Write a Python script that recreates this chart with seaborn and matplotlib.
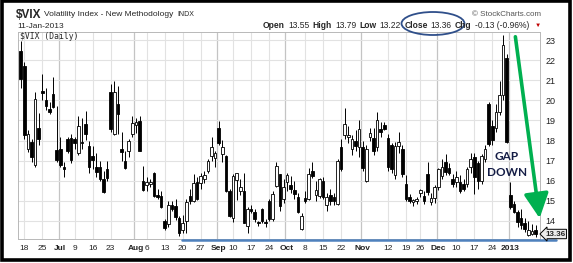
import numpy as np
import pandas as pd
import matplotlib
matplotlib.use("Agg")
import matplotlib.pyplot as plt
from matplotlib.patches import Ellipse, Rectangle, FancyArrowPatch
from matplotlib.lines import Line2D
import seaborn as sns

# ---------------- data ----------------
opens = [22.45, 21.70, 17.60, 17.92, 16.80, 18.60, 20.45, 20.00, 19.55, 20.30, 17.55, 17.60,
         16.65, 18.10, 18.15, 18.10, 17.40, 17.95, 18.80, 17.75, 17.25, 16.70, 16.70, 16.10,
         16.60, 20.40, 18.30, 19.80, 17.60, 17.00, 17.50, 18.30, 18.75, 18.95, 16.00, 15.80,
         15.85, 16.40, 15.30, 15.25, 14.00, 13.85, 14.80, 14.75, 14.15, 13.55, 14.00, 15.25,
         15.00, 15.95, 15.90, 16.10, 16.50, 17.25, 17.15, 18.60, 17.35, 17.25, 15.50, 14.15,
         16.05, 15.50, 15.50, 13.75, 14.60, 14.45, 13.90, 14.58, 13.95, 15.00, 14.08, 15.75,
         16.33, 15.10, 15.95, 15.80, 15.55, 15.20, 13.60, 15.12, 15.10, 16.50, 15.30, 15.25,
         16.00, 14.80, 15.28, 15.20, 14.85, 17.67, 18.25, 18.17, 17.58, 18.00, 17.67, 17.67,
         16.00, 18.20, 18.12, 17.67, 18.58, 18.75, 18.12, 17.78, 16.28, 17.75, 17.58, 15.83,
         15.20, 14.95, 15.00, 15.40, 15.25, 16.33, 14.95, 15.15, 15.67, 16.25, 16.92, 16.62,
         16.08, 15.92, 15.92, 15.85, 15.83, 16.70, 17.20, 16.90, 16.00, 17.10, 19.80, 18.70,
         18.60, 19.42, 20.25, 22.10, 15.30, 14.85, 14.45, 14.15, 13.90, 13.30, 13.35, 13.55]

highs = [22.95, 21.90, 18.50, 18.10, 20.40, 19.35, 21.30, 20.60, 19.90, 21.15, 19.70, 18.20,
         16.95, 18.20, 18.30, 18.20, 19.20, 19.10, 19.45, 18.00, 17.75, 17.40, 17.00, 16.50,
         17.00, 20.80, 20.95, 20.70, 18.40, 17.50, 18.10, 19.20, 19.10, 19.20, 16.75, 16.20,
         16.10, 16.45, 15.60, 15.50, 14.10, 15.00, 15.00, 15.10, 14.25, 14.30, 15.10, 15.60,
         16.35, 16.20, 16.40, 16.50, 17.10, 18.20, 17.50, 18.95, 18.05, 17.30, 15.60, 16.35,
         16.40, 16.10, 16.40, 14.67, 14.80, 14.60, 14.00, 14.65, 14.12, 15.10, 15.50, 16.95,
         16.35, 16.10, 16.40, 16.25, 16.00, 15.40, 14.40, 15.50, 16.65, 16.95, 16.00, 16.15,
         16.20, 15.40, 15.60, 15.40, 17.10, 18.10, 19.60, 18.70, 18.25, 18.50, 19.00, 18.00,
         17.80, 18.60, 18.60, 19.40, 18.90, 18.90, 18.30, 17.90, 17.95, 18.40, 17.80, 16.30,
         15.35, 15.10, 15.20, 15.60, 15.50, 16.95, 15.40, 15.80, 16.65, 17.10, 17.35, 16.90,
         16.35, 16.50, 16.30, 16.10, 16.70, 17.40, 17.40, 17.00, 17.35, 17.80, 19.90, 19.00,
         19.80, 20.95, 23.25, 22.30, 15.95, 15.00, 14.55, 14.60, 14.15, 14.00, 13.85, 13.79]

lows = [20.60, 18.10, 17.45, 16.92, 16.70, 17.80, 20.00, 19.50, 19.30, 19.60, 16.95, 16.70,
        16.20, 17.40, 16.90, 17.60, 17.30, 17.60, 18.05, 16.40, 16.60, 16.20, 16.00, 15.40,
        16.00, 18.40, 18.25, 18.30, 17.00, 16.60, 17.20, 18.20, 18.35, 17.50, 15.50, 15.50,
        15.70, 15.20, 15.10, 14.65, 13.55, 13.70, 14.50, 14.05, 13.25, 13.40, 13.40, 14.85,
        14.95, 15.05, 15.60, 15.90, 16.40, 17.00, 16.70, 17.80, 16.95, 15.45, 14.20, 13.95,
        15.05, 15.30, 13.90, 13.40, 14.40, 13.95, 13.75, 13.90, 13.70, 14.00, 14.00, 15.70,
        14.50, 14.90, 15.50, 15.40, 15.10, 14.40, 13.55, 14.90, 15.05, 16.15, 15.00, 15.15,
        15.10, 14.50, 14.80, 14.80, 14.80, 16.50, 18.10, 17.90, 17.30, 17.50, 17.20, 16.50,
        15.95, 18.00, 17.30, 17.50, 18.20, 18.50, 16.50, 16.40, 16.10, 17.40, 16.20, 15.00,
        14.90, 14.75, 14.85, 15.20, 14.85, 15.30, 14.80, 14.90, 15.55, 16.10, 16.30, 16.30,
        15.70, 15.70, 15.40, 15.50, 15.70, 16.40, 15.35, 15.60, 15.85, 16.95, 17.75, 17.80,
        18.40, 19.25, 20.00, 17.90, 14.60, 14.40, 13.70, 13.60, 13.45, 13.25, 13.30, 13.22]

closes = [21.08, 18.25, 18.33, 17.17, 20.05, 18.10, 20.35, 19.70, 19.40, 19.65, 17.05, 16.80,
          16.60, 17.50, 17.05, 17.90, 18.70, 17.88, 18.30, 16.70, 17.05, 16.45, 16.10, 15.45,
          16.15, 18.55, 20.40, 19.30, 17.45, 16.65, 18.00, 18.85, 18.90, 17.50, 15.55, 15.95,
          15.95, 15.25, 15.20, 14.70, 13.65, 14.80, 14.60, 14.20, 13.40, 13.90, 14.95, 15.00,
          15.90, 15.10, 16.25, 16.30, 17.00, 17.70, 17.40, 17.90, 17.70, 15.50, 14.25, 16.25,
          16.38, 15.70, 13.92, 14.58, 14.50, 14.10, 13.88, 14.00, 13.90, 14.10, 15.33, 16.75,
          14.75, 15.70, 16.28, 15.60, 15.35, 14.45, 14.25, 15.00, 16.35, 16.25, 15.55, 16.08,
          15.17, 15.20, 15.00, 15.00, 17.00, 16.60, 18.83, 18.28, 18.08, 17.75, 18.55, 16.62,
          17.58, 18.35, 17.50, 19.00, 18.42, 18.58, 16.67, 16.58, 17.75, 17.95, 16.33, 15.10,
          15.00, 15.05, 15.10, 15.55, 15.00, 15.42, 15.12, 15.67, 16.58, 16.67, 16.42, 16.38,
          15.83, 16.17, 15.50, 15.60, 16.58, 17.10, 16.20, 16.00, 17.25, 17.60, 17.85, 18.05,
          19.42, 20.25, 22.75, 17.95, 14.70, 14.45, 13.95, 13.78, 13.60, 13.55, 13.50, 13.36]

holidays = ["2012-07-04", "2012-09-03", "2012-10-29", "2012-10-30",
            "2012-11-22", "2012-12-25", "2013-01-01"]

tick_dates = ["2012-06-18", "2012-06-25", "2012-07-02", "2012-07-09", "2012-07-16",
              "2012-07-23", "2012-08-01", "2012-08-06", "2012-08-13", "2012-08-20",
              "2012-08-27", "2012-09-04", "2012-09-10", "2012-09-17", "2012-09-24",
              "2012-10-01", "2012-10-08", "2012-10-15", "2012-10-22", "2012-11-01",
              "2012-11-12", "2012-11-19", "2012-11-26", "2012-12-03", "2012-12-10",
              "2012-12-17", "2012-12-24", "2013-01-02"]
tick_labels = ["18", "25", "Jul", "9", "16", "23", "Aug", "6", "13", "20", "27", "Sep",
               "10", "17", "24", "Oct", "8", "15", "22", "Nov", "12", "19", "26", "Dec",
               "10", "17", "24", "2013"]
month_names = ["Jul", "Aug", "Sep", "Oct", "Nov", "Dec", "2013"]
y_ticks = [14, 15, 16, 17, 18, 19, 20, 21, 22, 23]
last_close = "13.36"

# ---------------- style ----------------
sns.set_theme(style="white")
plt.rcParams["font.family"] = ["Liberation Sans", "DejaVu Sans"]

W, H = 573, 263
fig = plt.figure(figsize=(W / 100, H / 100), dpi=100)
fig.patch.set_facecolor("white")


def fx(px):
    return px / W


def fy(py):
    return 1 - py / H


ax = fig.add_axes([fx(18), fy(239), fx(540) - fx(18), fy(32) - fy(239)])
ax.set_facecolor("white")

dates = pd.bdate_range("2012-06-15", "2013-01-11")
dates = dates[~dates.isin(pd.to_datetime(holidays))]
df = pd.DataFrame({"date": dates[:len(closes)], "open": opens, "high": highs,
                   "low": lows, "close": closes})
df["pos"] = np.arange(len(df))
pos_of = {d: p for d, p in zip(df["date"], df["pos"])}
tick_pos = [pos_of[pd.Timestamp(d)] for d in tick_dates]

# grid
for t, lab in zip(tick_pos, tick_labels):
    if lab in month_names:
        ax.axvline(t - 0.5, color="#c4c4c4", lw=0.9, zorder=0)
    else:
        ax.axvline(t, color="#e2e2e2", lw=0.8, zorder=0)
for yv in y_ticks:
    ax.axhline(yv, color="#e2e2e2", lw=0.8, zorder=0)

# candles
o = df["open"].to_numpy()
c = df["close"].to_numpy()
hi = df["high"].to_numpy()
lo = df["low"].to_numpy()
p = df["pos"].to_numpy()
up = c >= o
bottom = np.minimum(o, c)
height = np.maximum(np.abs(c - o), 0.06)
ax.vlines(p, lo, hi, color="black", lw=0.7, zorder=2)
ax.bar(p[up], height[up], bottom=bottom[up], width=0.72, color="white",
       edgecolor="black", linewidth=0.6, zorder=3)
ax.bar(p[~up], height[~up], bottom=bottom[~up], width=0.72, color="black",
       edgecolor="black", linewidth=0.6, zorder=3)

ax.set_xlim(-0.75, len(df) + 0.25)
ax.set_ylim(13.1, 23.4)

ax.yaxis.tick_right()
ax.set_yticks(y_ticks)
ax.set_yticklabels([str(v) for v in y_ticks])
ax.set_xticks(tick_pos)
ax.set_xticklabels(tick_labels)
ax.tick_params(axis="y", length=0, pad=4, labelsize=6.5, colors="#222222")
ax.tick_params(axis="x", length=0, pad=4, labelsize=6, colors="#222222")
for lab, txt in zip(ax.get_xticklabels(), tick_labels):
    if txt in month_names:
        lab.set_fontweight("bold")
for s in ax.spines.values():
    s.set_color("#b8b8b8")
    s.set_linewidth(0.7)

# ---------------- header texts ----------------
fig.canvas.draw()
renderer = fig.canvas.get_renderer()


def chain(pieces, x0, y, gap):
    x = x0
    for s, kw in pieces:
        t = fig.text(fx(x), fy(y), s, ha="left", va="center", parse_math=False, **kw)
        bb = t.get_window_extent(renderer)
        x += bb.width + gap
    return x


chain([("$VIX", dict(fontsize=8.5, fontweight="bold")),
       ("Volatility Index - New Methodology", dict(fontsize=6)),
       ("INDX", dict(fontsize=5))], 16, 15, 3)
fig.text(fx(17), fy(26), "11-Jan-2013", fontsize=6, ha="left", va="center")
fig.text(fx(20), fy(36.5), "$VIX (Daily)", fontsize=5.8, ha="left", va="center",
         family="DejaVu Sans Mono", parse_math=False)
fig.text(fx(541), fy(14), "\u00a9 StockCharts.com", fontsize=5.8, ha="right",
         va="center", color="#555555")

hdr = [("Open", True), ("13.55", False), ("High", True), ("13.79", False),
       ("Low", True), ("13.22", False), ("Close", True), ("13.36", False),
       ("Chg", True), ("-0.13 (-0.96%)", False)]
base = 6.0
tmp_w = 0
for s, b in hdr:
    t = fig.text(0, 0, s, fontsize=base, fontweight="bold" if b else "normal")
    tmp_w += t.get_window_extent(renderer).width
    t.remove()
gap = 3.2
size = base * (269 - gap * (len(hdr) - 1)) / tmp_w
chain([(s, dict(fontsize=size, fontweight="bold" if b else "normal")) for s, b in hdr],
      263, 25, gap)
fig.text(fx(535), fy(25.5), "\u25bc", fontsize=4.5, color="#c00000", ha="left", va="center")

# annotations
fig.add_artist(Ellipse((fx(433), fy(23.5)), 63 / W, 23 / H, transform=fig.transFigure,
                       fill=False, ec="#2f4f8a", lw=1.3))
fig.add_artist(FancyArrowPatch((fx(515), fy(34)), (fx(540), fy(221)),
                               transform=fig.transFigure,
                               arrowstyle="-|>,head_width=0.5,head_length=1.0",
                               mutation_scale=15, lw=2.6, color="#00b050"))
fig.text(fx(507), fy(157), "GAP", fontsize=8.5, fontweight="bold",
         family=["Lato", "DejaVu Sans"], color="#141c45", ha="center", va="center")
fig.text(fx(507), fy(173), "DOWN", fontsize=8.5, fontweight="bold",
         family=["Lato", "DejaVu Sans"], color="#141c45", ha="center", va="center")
fig.add_artist(Line2D([fx(182), fx(556)], [fy(239.5), fy(239.5)],
                      transform=fig.transFigure, color="#4f81bd", lw=1.8))
fig.text(fx(545), fy(234), last_close, fontsize=5.8, fontweight="bold", ha="left",
         va="center", bbox=dict(boxstyle="larrow,pad=0.15", fc="#ececec", ec="black", lw=0.7))

# outer frame
fig.add_artist(Rectangle((fx(2), fy(260)), 568 / W, 259 / H, transform=fig.transFigure,
                         fill=False, ec="black", lw=2.6))

fig.savefig("out.png", dpi=100, facecolor="white")
